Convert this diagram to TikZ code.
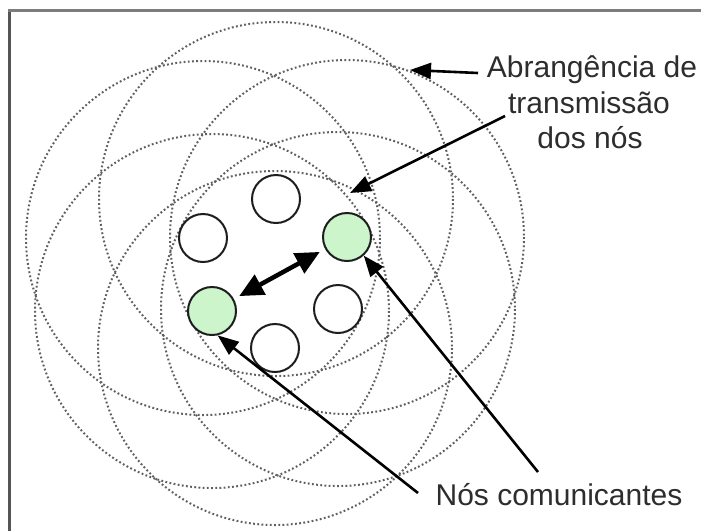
\documentclass[tikz,border=0pt]{standalone}
\usepackage{fontspec}
\setmainfont{Liberation Sans}
\usetikzlibrary{arrows.meta}
\definecolor{nodegreen}{RGB}{204,245,204}
\definecolor{nodeline}{RGB}{30,30,30}
\definecolor{txt}{RGB}{45,45,45}
\definecolor{rangegray}{RGB}{95,95,95}
\definecolor{frameleft}{RGB}{85,85,85}
\definecolor{frametop}{RGB}{125,125,125}
\begin{document}
\begin{tikzpicture}[x=1pt,y=-1pt,
  station/.style={circle,draw=nodeline,line width=2pt,fill=white,minimum size=48pt,inner sep=0pt},
  talker/.style={station,fill=nodegreen},
  txrange/.style={draw=rangegray,line width=2pt,dash pattern=on 1.8pt off 2.4pt},
  pointer/.style={draw=black,line width=2.6pt,-{Triangle[length=21pt,width=16pt]}},
  duplex/.style={draw=black,line width=4.5pt,{Triangle[length=24pt,width=22pt]}-{Triangle[length=24pt,width=22pt]},shorten <=6pt,shorten >=6pt},
  labeltext/.style={text=txt,font=\fontsize{30}{35}\selectfont,anchor=base,inner sep=0pt}]
\useasboundingbox (0,0) rectangle (701,531);
\fill[white] (0,0) rectangle (701,531);
% frame
\draw[frameleft,line width=3pt] (9.5,531) -- (9.5,9);
\draw[frametop,line width=3pt] (8,10.5) -- (701,10.5);
% node positions
\coordinate (pT) at (276,199);
\coordinate (pUL) at (203,238);
\coordinate (pUR) at (347,237);
\coordinate (pLL) at (212,311);
\coordinate (pLR) at (338,309);
\coordinate (pB) at (275,348);
% transmission ranges
\foreach \p in {pT,pUL,pUR,pLL,pLR,pB}
  \draw[txrange] (\p) circle (177);
% nodes
\node[station] (T) at (pT) {};
\node[station] (UL) at (pUL) {};
\node[talker] (UR) at (pUR) {};
\node[talker] (LL) at (pLL) {};
\node[station] (LR) at (pLR) {};
\node[station] (B) at (pB) {};
% labels
\node[labeltext] (lab1) at (592,77) {Abrangência de};
\node[labeltext] (lab2) at (589,113) {transmissão};
\node[labeltext] (lab3) at (590,148) {dos nós};
\node[labeltext] (lab4) at (559,505) {Nós comunicantes};
% connectors
\coordinate (s1) at (478,73);
\coordinate (e1) at (410,70);
\coordinate (s2) at (505,116);
\coordinate (e2) at (350,193);
\coordinate (s4) at (418,493);
\coordinate (s5) at (538,472);
\draw[pointer] (s1) -- (e1);
\draw[pointer] (s2) -- (e2);
\draw[duplex] (LL) -- (UR);
\draw[pointer] (s4) -- (LL.-77);
\draw[pointer] (s5) -- (UR.-48);
\end{tikzpicture}
\end{document}
